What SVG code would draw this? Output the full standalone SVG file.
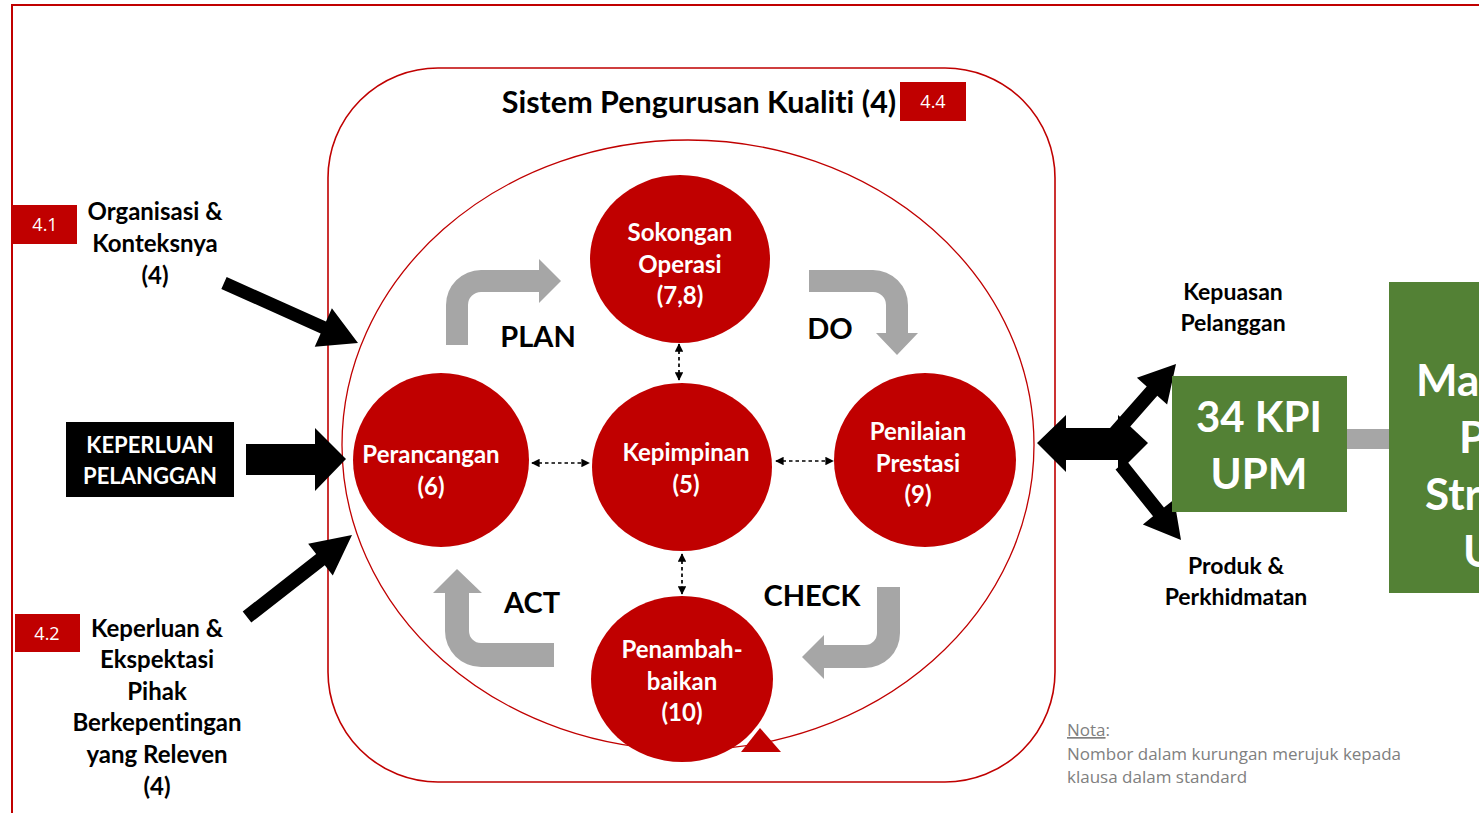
<svg xmlns="http://www.w3.org/2000/svg" width="1479" height="813" viewBox="0 0 1479 813">
<defs>
<style>
.b{font-family:Lato,"Open Sans","Liberation Sans",sans-serif;font-weight:700;text-anchor:middle;font-variant-ligatures:none}
.w{fill:#ffffff}
.k{fill:#000000}
.tag{font-family:"Open Sans","Liberation Sans",sans-serif;font-size:18px;fill:#ffffff;text-anchor:middle}
.c{fill:#c00000}
.g{fill:#a6a6a6}
.dash{stroke:#000;stroke-width:1.7;stroke-dasharray:3.5,3;fill:none;marker-start:url(#ah);marker-end:url(#ah)}
.nota{font-family:"Open Sans","Liberation Sans",sans-serif;font-size:17px;fill:#808080}
</style>
<marker id="ah" viewBox="0 0 10 10" refX="9" refY="5" markerWidth="5" markerHeight="5" orient="auto-start-reverse" markerUnits="strokeWidth">
<path d="M0,0 L10,5 L0,10 Z" fill="#000"/>
</marker>
</defs>
<rect width="1479" height="813" fill="#ffffff"/>
<rect x="12" y="5" width="1500" height="900" fill="none" stroke="#c00000" stroke-width="2"/>

<g id="system">
<rect x="328" y="68" width="727" height="714" rx="110" ry="110" fill="none" stroke="#c00000" stroke-width="1.6"/>
<ellipse cx="688" cy="445" rx="346" ry="305" fill="none" stroke="#c00000" stroke-width="1.3"/>
<text class="b k" x="699" y="113" font-size="30.5">Sistem Pengurusan Kualiti (4)</text>
<rect x="900" y="82" width="66" height="39" class="c"/>
<text class="tag" x="933" y="108">4.4</text>
</g>

<g id="connectors">
<path class="g" d="M446,345 L446,305 A35,35 0 0 1 481,270 L539,270 L539,259 L561,281 L539,303 L539,292 L481,292 A13,13 0 0 0 468,305 L468,345 Z"/>
<path class="g" d="M809,270 L873,270 A35,35 0 0 1 908,305 L908,333 L918,333 L897,355 L876,333 L886,333 L886,305 A13,13 0 0 0 873,292 L809,292 Z"/>
<path class="g" d="M877,587 L900,587 L900,633 A35,35 0 0 1 865,668 L824,668 L824,679 L802,657 L824,635 L824,645 L865,645 A12,12 0 0 0 877,633 Z"/>
<path class="g" d="M554,643 L481,643 A12,12 0 0 1 469,631 L469,593 L482,593 L457,569 L433,593 L445,593 L445,631 A36,36 0 0 0 481,667 L554,667 Z"/>
<line class="dash" x1="679" y1="380" x2="679" y2="344"/>
<line class="dash" x1="532" y1="463" x2="589" y2="463"/>
<line class="dash" x1="776" y1="461" x2="833" y2="461"/>
<line class="dash" x1="682" y1="554" x2="682" y2="594"/>
<polygon fill="#000" points="221.34,288.93 320.65,333.40 314.73,346.64 358,343 331.89,308.30 325.97,321.54 226.66,277.07"/>
<polygon fill="#000" points="246,444 315,444 315,428 346,459 315,491 315,475 246,475"/>
<polygon fill="#000" points="251.31,622.52 324.78,565.14 332.78,575.39 352,535 308.16,543.85 316.16,554.10 242.69,611.48"/>
<g fill="#000">
<polygon points="1037,443 1066,415 1066,428 1125,428 1125,460 1066,460 1066,472"/>
<polygon points="1118,415 1148,443 1118,473"/>
<polygon points="1117.29,441.17 1157.29,395.87 1167.12,404.54 1176,364 1136.88,377.86 1146.71,386.53 1106.71,431.83"/>
<polygon points="1115.53,469.38 1153.03,516.28 1142.88,524.4 1181,540 1174.12,499.4 1163.97,507.52 1126.47,460.62"/>
</g>
<rect x="1347" y="429" width="42" height="20" class="g"/>
<text class="b k" x="538" y="347" font-size="29">PLAN</text>
<text class="b k" x="830" y="339" font-size="29">DO</text>
<text class="b k" x="812" y="606" font-size="29">CHECK</text>
<text class="b k" x="532" y="613" font-size="29">ACT</text>
</g>

<g id="sokongan">
<ellipse cx="680" cy="259" rx="90" ry="84" class="c"/>
<text class="b w" x="680" y="241" font-size="24">Sokongan</text>
<text class="b w" x="680" y="273" font-size="24">Operasi</text>
<text class="b w" x="680" y="304" font-size="24">(7,8)</text>
</g>
<g id="perancangan">
<ellipse cx="441" cy="460" rx="88" ry="87" class="c"/>
<text class="b w" x="431" y="463" font-size="24">Perancangan</text>
<text class="b w" x="431" y="495" font-size="24">(6)</text>
</g>
<g id="kepimpinan">
<ellipse cx="682" cy="467" rx="90" ry="84" class="c"/>
<text class="b w" x="686" y="461" font-size="24">Kepimpinan</text>
<text class="b w" x="686" y="493" font-size="24">(5)</text>
</g>
<g id="penilaian">
<ellipse cx="925" cy="460" rx="91" ry="87" class="c"/>
<text class="b w" x="918" y="440" font-size="24">Penilaian</text>
<text class="b w" x="918" y="472" font-size="24">Prestasi</text>
<text class="b w" x="918" y="503" font-size="24">(9)</text>
</g>
<g id="penambahbaikan">
<ellipse cx="682" cy="679" rx="91" ry="83" class="c"/>
<text class="b w" x="682" y="658" font-size="24">Penambah-</text>
<text class="b w" x="682" y="690" font-size="24">baikan</text>
<text class="b w" x="682" y="721" font-size="24">(10)</text>
<polygon class="c" points="760,728 781,752 741,752"/>
</g>

<g id="organisasi">
<rect x="12" y="205" width="65" height="39" class="c"/>
<text class="tag" x="45" y="231">4.1</text>
<text class="b k" x="155" y="220" font-size="24">Organisasi &amp;</text>
<text class="b k" x="155" y="252" font-size="24">Konteksnya</text>
<text class="b k" x="155" y="284" font-size="24">(4)</text>
</g>
<g id="keperluan-pelanggan">
<rect x="66" y="422" width="168" height="75" fill="#000"/>
<text class="b w" x="150" y="453" font-size="22">KEPERLUAN</text>
<text class="b w" x="150" y="484" font-size="22">PELANGGAN</text>
</g>
<g id="pihak">
<rect x="15" y="614" width="65" height="38" class="c"/>
<text class="tag" x="47" y="640">4.2</text>
<text class="b k" x="157" y="637" font-size="24">Keperluan &amp;</text>
<text class="b k" x="157" y="668" font-size="24">Ekspektasi</text>
<text class="b k" x="157" y="700" font-size="24">Pihak</text>
<text class="b k" x="157" y="731" font-size="24">Berkepentingan</text>
<text class="b k" x="157" y="763" font-size="24">yang Releven</text>
<text class="b k" x="157" y="795" font-size="24">(4)</text>
</g>

<g id="kepuasan">
<text class="b k" x="1233" y="300" font-size="23">Kepuasan</text>
<text class="b k" x="1233" y="331" font-size="23">Pelanggan</text>
</g>
<g id="produk">
<text class="b k" x="1236" y="574" font-size="23">Produk &amp;</text>
<text class="b k" x="1236" y="605" font-size="23">Perkhidmatan</text>
</g>
<g id="kpi">
<rect x="1172" y="376" width="175" height="136" fill="#538135"/>
<text class="b w" x="1259" y="432" font-size="42">34 KPI</text>
<text class="b w" x="1259" y="489" font-size="42">UPM</text>
</g>
<g id="pelan">
<rect x="1389" y="282" width="120" height="311" fill="#538135"/>
<text class="b w" x="1416" y="396" font-size="44" style="text-anchor:start">Ma</text>
<text class="b w" x="1459" y="453" font-size="44" style="text-anchor:start">P</text>
<text class="b w" x="1425" y="510" font-size="44" style="text-anchor:start">Str</text>
<text class="b w" x="1463" y="567" font-size="44" style="text-anchor:start">U</text>
</g>

<g id="nota">
<text class="nota" x="1067" y="736"><tspan text-decoration="underline">Nota</tspan>:</text>
<text class="nota" x="1067" y="760">Nombor dalam kurungan merujuk kepada</text>
<text class="nota" x="1067" y="783">klausa dalam standard</text>
</g>
</svg>
